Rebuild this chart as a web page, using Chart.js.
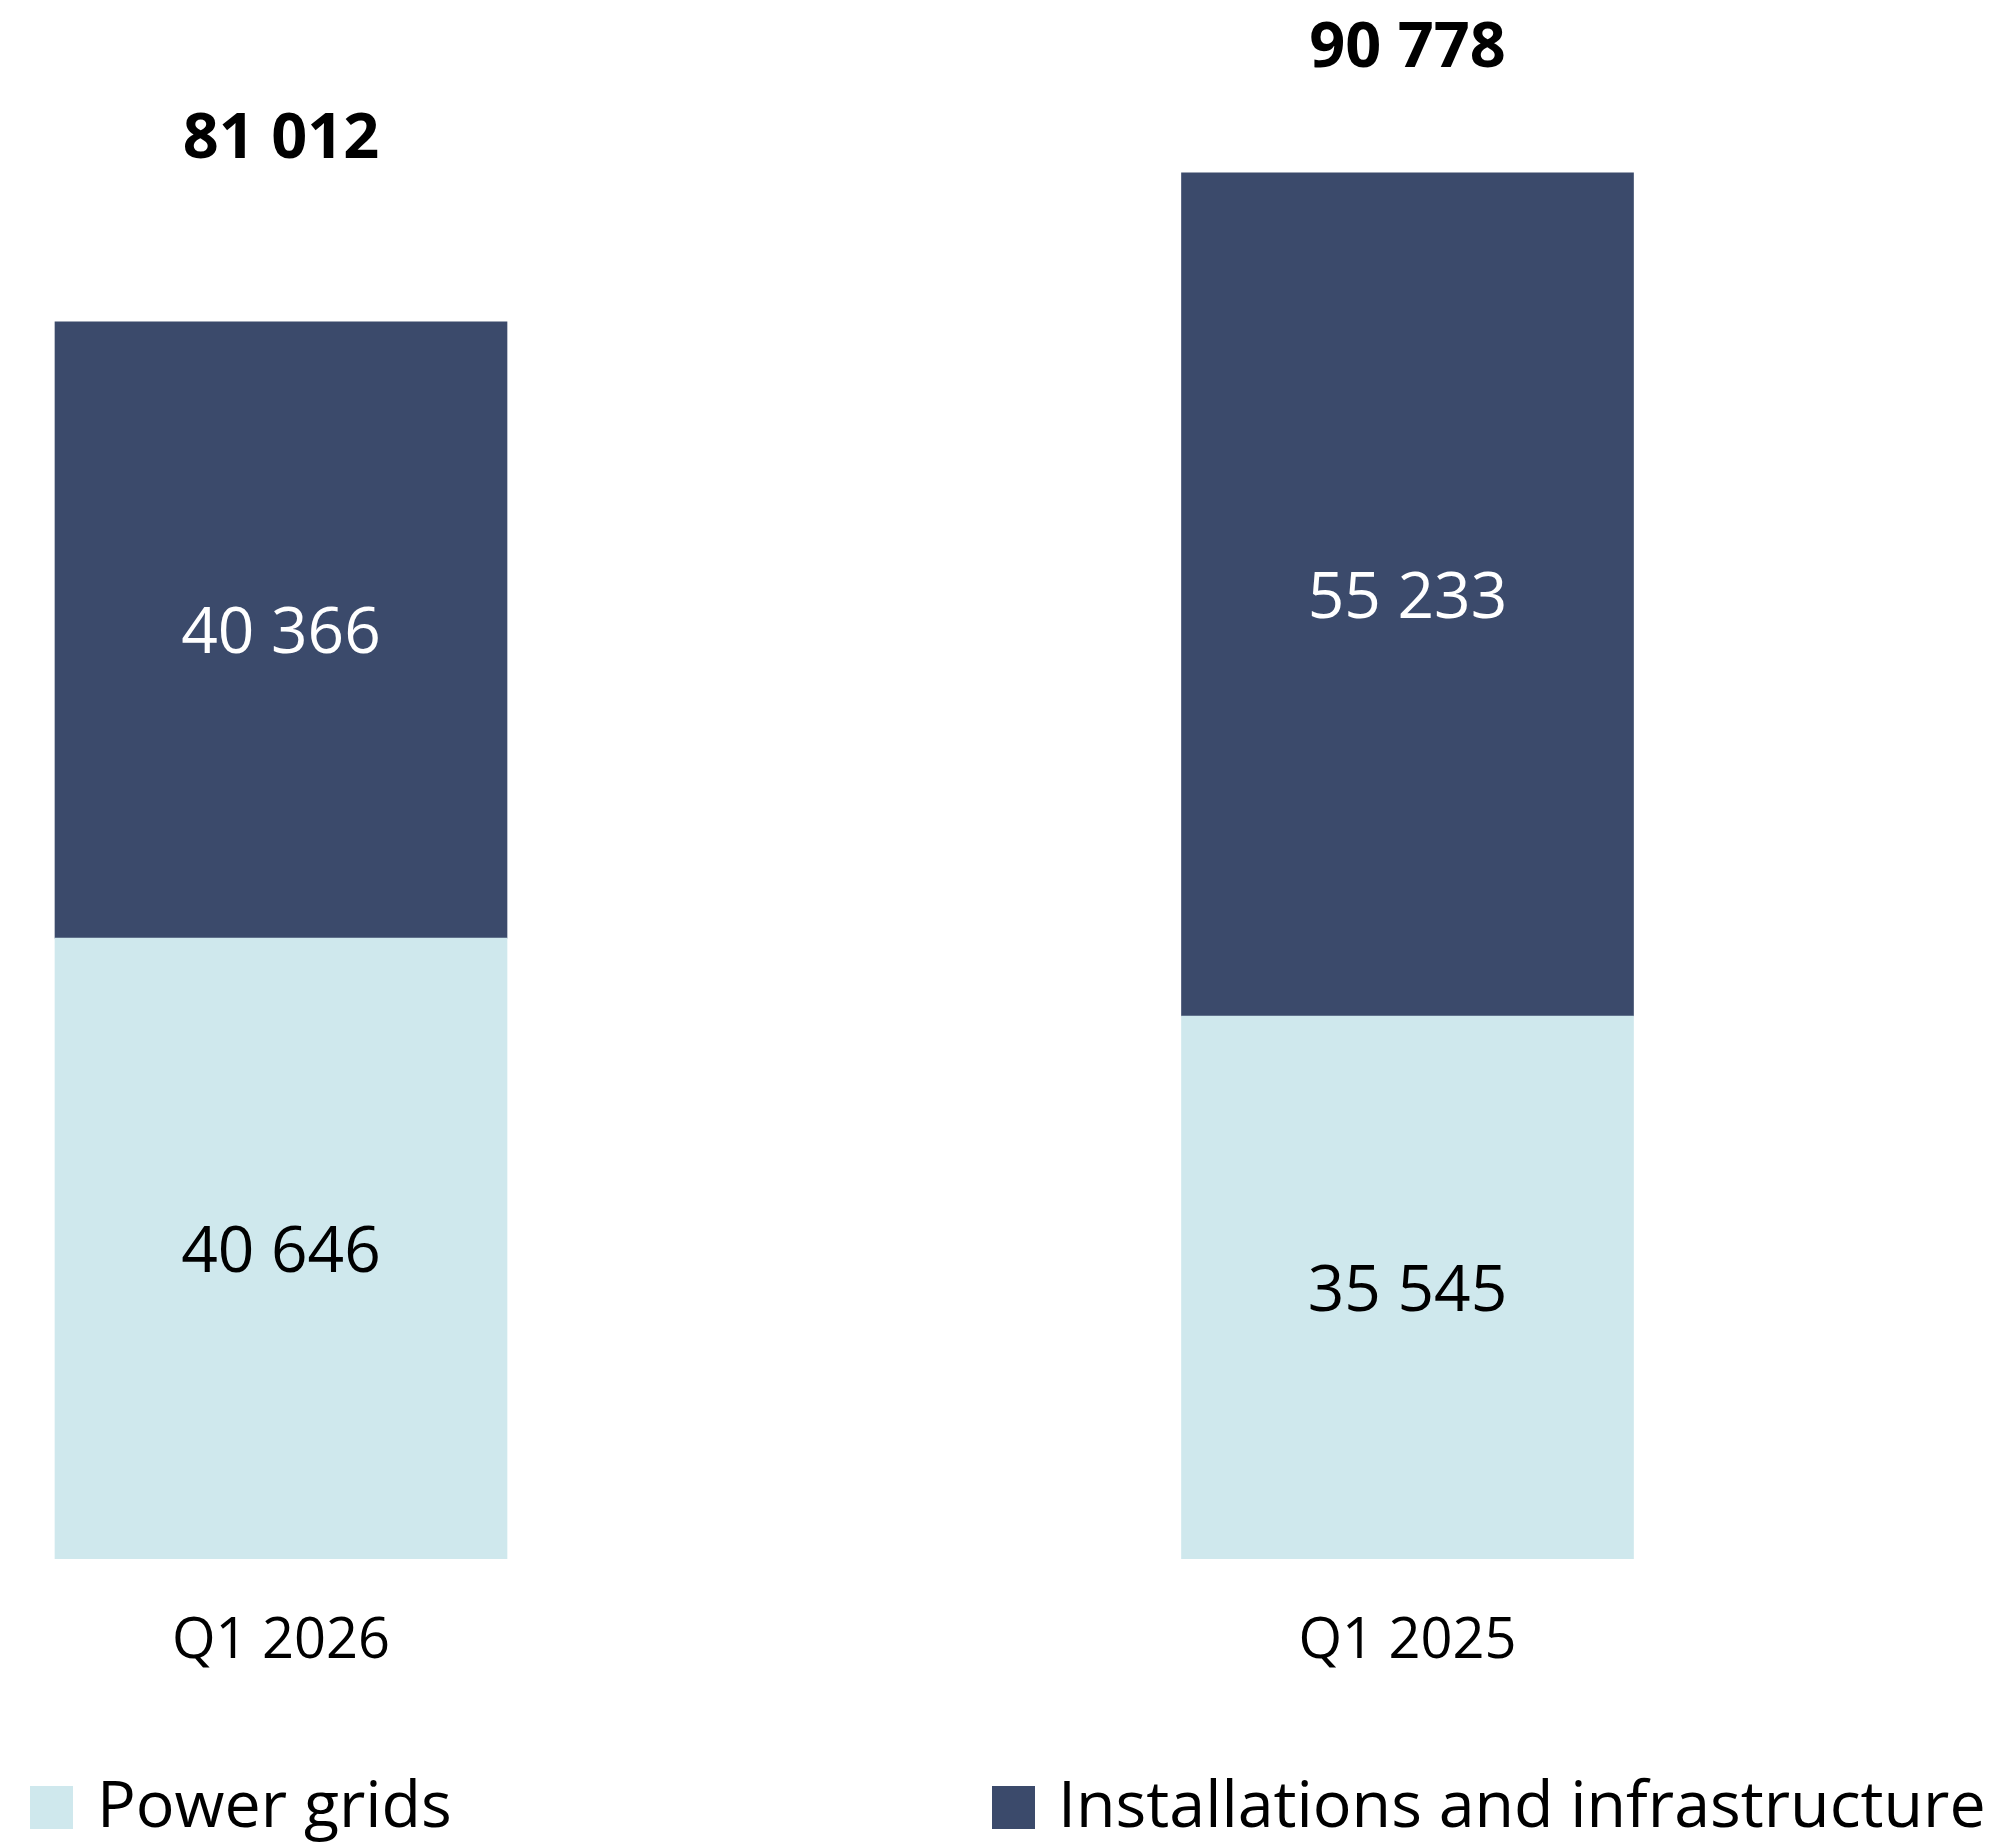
<!DOCTYPE html>
<html>
<head>
<meta charset="utf-8">
<script src="https://cdn.jsdelivr.net/npm/chart.js@4/dist/chart.umd.min.js"></script>
<style>
  html, body { margin: 0; padding: 0; background: #ffffff; }
  #wrap { width: 2004px; height: 1843px; position: relative; }
  canvas { display: block; }
</style>
</head>
<body>
<div id="wrap"><canvas id="c" width="2004" height="1843" style="width:2004px;height:1843px"></canvas></div>
<script>
// ---- data ----
const categories = ['Q1 2026', 'Q1 2025'];
const powerGrids = [40646, 35545];
const installations = [40366, 55233];
const totals = [81012, 90778];
const seriesNames = ['Power grids', 'Installations and infrastructure'];

// ---- styling ----
const COLOR_LIGHT = '#CFE8ED';
const COLOR_DARK = '#3B4A6B';
const FONT = '"Open Sans", "Noto Sans", sans-serif';
const totalGaps = [164, 106]; // px between bar top and total label baseline

function fmt(v) { return String(v).replace(/\B(?=(\d{3})+(?!\d))/g, ' '); }

const segmentLabels = {
  id: 'segmentLabels',
  afterDatasetsDraw(chart) {
    const ctx = chart.ctx;
    ctx.save();
    ctx.font = '64px ' + FONT;
    ctx.textAlign = 'center';
    ctx.textBaseline = 'alphabetic';
    const capH = ctx.measureText('0').actualBoundingBoxAscent;
    chart.data.datasets.forEach((ds, di) => {
      const meta = chart.getDatasetMeta(di);
      meta.data.forEach((el, i) => {
        const cy = (el.y + el.base) / 2;
        ctx.fillStyle = ds.labelColor;
        ctx.fillText(fmt(ds.data[i]), el.x, cy + capH / 2);
      });
    });
    // totals
    ctx.font = 'bold 63px ' + FONT;
    ctx.fillStyle = '#000000';
    const topMeta = chart.getDatasetMeta(chart.data.datasets.length - 1);
    topMeta.data.forEach((el, i) => {
      ctx.fillText(fmt(totals[i]), el.x, el.y - totalGaps[i]);
    });
    ctx.restore();
  }
};

const customLegend = {
  id: 'customLegend',
  afterDraw(chart) {
    const ctx = chart.ctx;
    ctx.save();
    const items = [
      { box: 30, text: 97 },
      { box: 992, text: 1058 }
    ];
    const boxTop = 1786, boxSize = 43, baseline = 1827;
    ctx.font = '64.5px ' + FONT;
    ctx.textAlign = 'left';
    ctx.textBaseline = 'alphabetic';
    chart.data.datasets.forEach((ds, i) => {
      const it = items[i];
      ctx.fillStyle = ds.backgroundColor;
      ctx.fillRect(it.box, boxTop, boxSize, boxSize);
      ctx.fillStyle = '#000000';
      ctx.fillText(ds.label, it.text, baseline);
    });
    ctx.restore();
  }
};

const chart = new Chart(document.getElementById('c'), {
  type: 'bar',
  data: {
    labels: categories,
    datasets: [
      { label: seriesNames[0], data: powerGrids, backgroundColor: COLOR_LIGHT, labelColor: '#000000', barThickness: 452, clip: false },
      { label: seriesNames[1], data: installations, backgroundColor: COLOR_DARK, labelColor: '#ffffff', barThickness: 452, clip: false }
    ]
  },
  options: {
    responsive: false,
    animation: false,
    devicePixelRatio: 1,
    layout: { padding: { left: 281, right: 596.5, top: 32, bottom: 118.4 } },
    plugins: {
      legend: { display: false },
      tooltip: { enabled: false }
    },
    scales: {
      x: {
        stacked: true,
        offset: false,
        grid: { display: false, drawTicks: false },
        border: { display: false },
        ticks: { color: '#000000', font: { family: FONT, size: 56 }, padding: 49.4, maxRotation: 0, autoSkip: false }
      },
      y: {
        stacked: true,
        display: false,
        min: 0,
        max: 100000
      }
    }
  },
  plugins: [segmentLabels, customLegend]
});
</script>
</body>
</html>
